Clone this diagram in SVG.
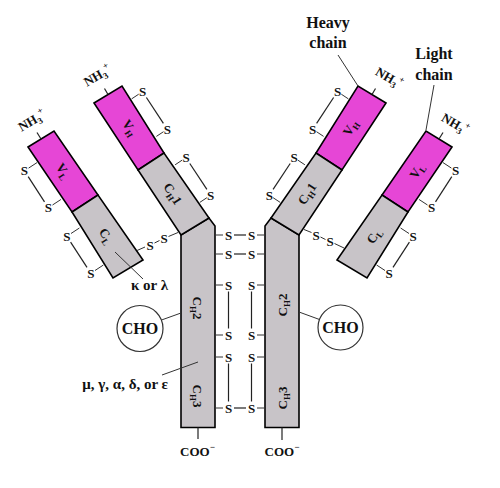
<svg xmlns="http://www.w3.org/2000/svg" width="500" height="488" viewBox="0 0 500 488">
<style>
.v{fill:#e646d6;stroke:#000;stroke-width:1.6;stroke-linejoin:miter}
.c{fill:#c8c4c8;stroke:#000;stroke-width:1.6;stroke-linejoin:miter}
text{font-family:"Liberation Serif","Times New Roman",serif;font-weight:bold;fill:#111}
.s{font-size:13px;text-anchor:middle;dominant-baseline:central}
.lbl{font-size:13px;text-anchor:middle}
.nh{font-size:13px;text-anchor:middle}
.big{font-size:16px;text-anchor:middle}
.ln{stroke:#222;stroke-width:1.2;fill:none}
.dl{stroke:#333;stroke-width:1;fill:none}
.cho{fill:#fff;stroke:#333;stroke-width:1.2}
</style>

<g id="light-chain-left">
  <polygon class="v" points="28,147 54,131 98,195 72,212"/>
  <polygon class="c" points="72,212 98,195 143,260 113,278"/>
  <text class="lbl" transform="translate(63,171) rotate(57)" y="4">V<tspan font-size="9" dy="3">L</tspan></text>
  <text class="lbl" transform="translate(106,236) rotate(57)" y="4">C<tspan font-size="9" dy="3">L</tspan></text>
  <text class="nh" transform="translate(32,121) rotate(-30)" y="4">NH<tspan font-size="9" dy="3">3</tspan><tspan font-size="9" dy="-9">+</tspan></text>
</g>

<g id="heavy-chain-left">
  <polygon class="c" points="181,235 209,218 215,226 215,427.5 181,427.5"/>
  <polygon class="v" points="94,103 122,86 164,153 138,170"/>
  <polygon class="c" points="138,170 164,153 209,218 181,235"/>
  <text class="lbl" transform="translate(129.5,128) rotate(57)" y="4">V<tspan font-size="9" dy="3">H</tspan></text>
  <text class="lbl" transform="translate(172.5,194) rotate(57)" y="4">C<tspan font-size="9" dy="3">H</tspan><tspan dy="-3">1</tspan></text>
  <text class="lbl" transform="translate(197,308) rotate(90)" y="4">C<tspan font-size="9" dy="3">H</tspan><tspan dy="-3">2</tspan></text>
  <text class="lbl" transform="translate(197,396) rotate(90)" y="4">C<tspan font-size="9" dy="3">H</tspan><tspan dy="-3">3</tspan></text>
  <text class="nh" transform="translate(97.5,76) rotate(-30)" y="4">NH<tspan font-size="9" dy="3">3</tspan><tspan font-size="9" dy="-9">+</tspan></text>
  <text class="lbl" x="197.5" y="456">COO<tspan font-size="9" dy="-6">−</tspan></text>
</g>

<g id="heavy-chain-right">
  <polygon class="c" points="299,235 271,218 265,226 265,427.5 299,427.5"/>
  <polygon class="v" points="386,103 358,86 316,153 342,170"/>
  <polygon class="c" points="342,170 316,153 271,218 299,235"/>
  <text class="lbl" transform="translate(350.5,128) rotate(-57)" y="4">V<tspan font-size="9" dy="3">H</tspan></text>
  <text class="lbl" transform="translate(307.5,194) rotate(-57)" y="4">C<tspan font-size="9" dy="3">H</tspan><tspan dy="-3">1</tspan></text>
  <text class="lbl" transform="translate(283,305) rotate(-90)" y="4">C<tspan font-size="9" dy="3">H</tspan><tspan dy="-3">2</tspan></text>
  <text class="lbl" transform="translate(283,398) rotate(-90)" y="4">C<tspan font-size="9" dy="3">H</tspan><tspan dy="-3">3</tspan></text>
  <text class="nh" transform="translate(389,78) rotate(30)" y="4">NH<tspan font-size="9" dy="3">3</tspan><tspan font-size="9" dy="-9">+</tspan></text>
  <text class="lbl" x="282" y="456">COO<tspan font-size="9" dy="-6">−</tspan></text>
</g>

<g id="light-chain-right">
  <polygon class="v" points="452,147 426,131 382,195 408,212"/>
  <polygon class="c" points="408,212 382,195 337,260 367,278"/>
  <text class="lbl" transform="translate(417,171) rotate(-57)" y="4">V<tspan font-size="9" dy="3">L</tspan></text>
  <text class="lbl" transform="translate(374,236) rotate(-57)" y="4">C<tspan font-size="9" dy="3">L</tspan></text>
  <text class="nh" transform="translate(455,124) rotate(30)" y="4">NH<tspan font-size="9" dy="3">3</tspan><tspan font-size="9" dy="-9">+</tspan></text>
</g>

<g id="cho-left">
  <circle class="cho" cx="140" cy="328.5" r="23"/>
  <text class="big" x="140" y="334">CHO</text>
</g>
<g id="cho-right">
  <circle class="cho" cx="340.5" cy="327.5" r="22.5"/>
  <text class="big" x="340.5" y="333">CHO</text>
</g>

<g id="labels">
  <text class="big" x="328" y="28">Heavy</text>
  <text class="big" x="328" y="48">chain</text>
  <text class="big" x="434" y="59">Light</text>
  <text class="big" x="434" y="80">chain</text>
  <text x="131" y="290" font-size="15">κ or λ</text>
  <text x="168" y="389" font-size="15" text-anchor="end">μ, γ, α, δ, or ε</text>
</g>

<g id="connectors">
  <!-- terminal ticks -->
  <line class="ln" x1="41" y1="139" x2="37" y2="132.5"/>
  <line class="ln" x1="108" y1="94.5" x2="104.5" y2="88.5"/>
  <line class="ln" x1="372" y1="94.5" x2="375.5" y2="88.5"/>
  <line class="ln" x1="439" y1="139" x2="443" y2="132.5"/>
  <line class="ln" x1="198" y1="427.5" x2="198" y2="439"/>
  <line class="ln" x1="282" y1="427.5" x2="282" y2="440"/>
  <!-- leader lines -->
  <line class="dl" x1="338" y1="55" x2="358" y2="86"/>
  <line class="dl" x1="434" y1="85" x2="426" y2="130"/>
  <line class="dl" x1="115" y1="252" x2="143" y2="279"/>
  <line class="dl" x1="161.5" y1="320" x2="181" y2="313"/>
  <line class="dl" x1="319.5" y1="319.5" x2="299" y2="312"/>
  <line class="dl" x1="162" y1="375" x2="198" y2="362"/>

  <!-- intrachain disulfides: left light -->
  <line class="dl" x1="37" y1="162.6" x2="28.6" y2="168.1"/>
  <line class="dl" x1="60.9" y1="199.5" x2="52.5" y2="205"/>
  <line class="dl" x1="79.4" y1="228" x2="71" y2="233.5"/>
  <line class="dl" x1="103.4" y1="265" x2="95" y2="270.5"/>
  <line class="ln" x1="28.2" y1="176.7" x2="44.5" y2="201.8"/>
  <line class="ln" x1="70.6" y1="242.1" x2="87" y2="267.3"/>
  <text class="s" x="24.4" y="170.8">S</text>
  <text class="s" x="48.3" y="207.7">S</text>
  <text class="s" x="66.8" y="236.2">S</text>
  <text class="s" x="90.8" y="273.2">S</text>

  <!-- left heavy -->
  <line class="dl" x1="131.6" y1="98.9" x2="138.7" y2="94.2"/>
  <line class="dl" x1="156.4" y1="136.4" x2="163.5" y2="131.7"/>
  <line class="dl" x1="175.1" y1="164.8" x2="182.2" y2="160.1"/>
  <line class="dl" x1="199.8" y1="202.4" x2="206.9" y2="197.7"/>
  <line class="ln" x1="146.4" y1="97.5" x2="163.4" y2="123.4"/>
  <line class="ln" x1="189.8" y1="163.5" x2="206.9" y2="189.4"/>
  <text class="s" x="142.5" y="91.7">S</text>
  <text class="s" x="167.3" y="129.2">S</text>
  <text class="s" x="186" y="157.6">S</text>
  <text class="s" x="210.7" y="195.2">S</text>

  <!-- right heavy -->
  <line class="dl" x1="348.4" y1="98.9" x2="341.3" y2="94.2"/>
  <line class="dl" x1="323.6" y1="136.4" x2="316.5" y2="131.7"/>
  <line class="dl" x1="304.9" y1="164.8" x2="297.8" y2="160.1"/>
  <line class="dl" x1="280.2" y1="202.4" x2="273.1" y2="197.7"/>
  <line class="ln" x1="333.6" y1="97.5" x2="316.6" y2="123.4"/>
  <line class="ln" x1="290.2" y1="163.5" x2="273.1" y2="189.4"/>
  <text class="s" x="337.5" y="91.7">S</text>
  <text class="s" x="312.7" y="129.2">S</text>
  <text class="s" x="294" y="157.6">S</text>
  <text class="s" x="269.3" y="195.2">S</text>

  <!-- right light -->
  <line class="dl" x1="443" y1="162.6" x2="451.4" y2="168.1"/>
  <line class="dl" x1="419.1" y1="199.5" x2="427.5" y2="205"/>
  <line class="dl" x1="400.6" y1="228" x2="409" y2="233.5"/>
  <line class="dl" x1="376.6" y1="265" x2="385" y2="270.5"/>
  <line class="ln" x1="451.8" y1="176.7" x2="435.5" y2="201.8"/>
  <line class="ln" x1="409.4" y1="242.1" x2="393" y2="267.3"/>
  <text class="s" x="455.6" y="170.8">S</text>
  <text class="s" x="431.7" y="207.7">S</text>
  <text class="s" x="413.2" y="236.2">S</text>
  <text class="s" x="389.2" y="273.2">S</text>

  <!-- light-heavy interchain -->
  <line class="dl" x1="137" y1="250.5" x2="145" y2="247"/>
  <line class="dl" x1="154.5" y1="243" x2="159.5" y2="240.5"/>
  <line class="dl" x1="168.5" y1="236.5" x2="178" y2="232.5"/>
  <text class="s" x="150" y="245">S</text>
  <text class="s" x="164" y="238.5">S</text>
  <line class="dl" x1="304" y1="229.5" x2="311.5" y2="232.5"/>
  <line class="dl" x1="320.5" y1="237" x2="325.5" y2="239.5"/>
  <line class="dl" x1="334.5" y1="243.5" x2="344" y2="248"/>
  <text class="s" x="316" y="235">S</text>
  <text class="s" x="330" y="241.5">S</text>

  <!-- hinge disulfides -->
  <g class="dl">
    <line x1="215" y1="235" x2="223" y2="235"/><line x1="257" y1="235" x2="265" y2="235"/>
    <line x1="215" y1="254" x2="223" y2="254"/><line x1="257" y1="254" x2="265" y2="254"/>
    <line x1="215" y1="285" x2="223" y2="285"/><line x1="257" y1="285" x2="265" y2="285"/>
    <line x1="215" y1="335" x2="223" y2="335"/><line x1="257" y1="335" x2="265" y2="335"/>
    <line x1="215" y1="357" x2="223" y2="357"/><line x1="257" y1="357" x2="265" y2="357"/>
    <line x1="215" y1="408" x2="223" y2="408"/><line x1="257" y1="408" x2="265" y2="408"/>
  </g>
  <g class="ln">
    <line x1="234" y1="235" x2="246" y2="235"/>
    <line x1="234" y1="254" x2="246" y2="254"/>
    <line x1="234" y1="408" x2="246" y2="408"/>
    <line x1="228.5" y1="291.5" x2="228.5" y2="328.5"/>
    <line x1="251.5" y1="291.5" x2="251.5" y2="328.5"/>
    <line x1="228.5" y1="363.5" x2="228.5" y2="401.5"/>
    <line x1="251.5" y1="363.5" x2="251.5" y2="401.5"/>
  </g>
  <text class="s" x="228.5" y="235">S</text><text class="s" x="251.5" y="235">S</text>
  <text class="s" x="228.5" y="254">S</text><text class="s" x="251.5" y="254">S</text>
  <text class="s" x="228.5" y="285">S</text><text class="s" x="251.5" y="285">S</text>
  <text class="s" x="228.5" y="335">S</text><text class="s" x="251.5" y="335">S</text>
  <text class="s" x="228.5" y="357">S</text><text class="s" x="251.5" y="357">S</text>
  <text class="s" x="228.5" y="408">S</text><text class="s" x="251.5" y="408">S</text>
</g>
</svg>
